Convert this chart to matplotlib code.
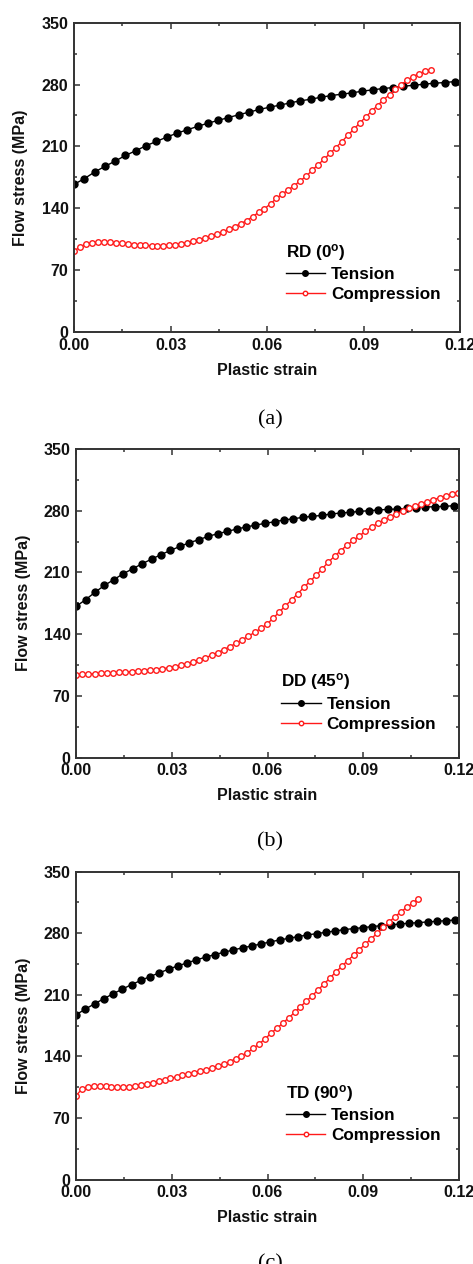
import matplotlib
matplotlib.use('Agg')
import matplotlib.pyplot as plt
from matplotlib.ticker import MultipleLocator, FormatStrFormatter

plt.rcParams['font.family'] = ['Liberation Sans', 'DejaVu Sans']
plt.rcParams['font.weight'] = 'bold'
plt.rcParams['mathtext.fontset'] = 'custom'
plt.rcParams['mathtext.rm'] = 'Liberation Sans'
plt.rcParams['mathtext.it'] = 'Liberation Sans'

# ---------------- data ----------------
# (a) RD (0 deg)
tension_strain_a = [0, 0.0032, 0.0064, 0.0096, 0.0128, 0.016, 0.0192, 0.0224, 0.0256, 0.0288,
                    0.032, 0.0352, 0.0384, 0.0416, 0.0448, 0.048, 0.0512, 0.0544, 0.0576, 0.0608,
                    0.064, 0.0672, 0.0704, 0.0736, 0.0768, 0.08, 0.0832, 0.0864, 0.0896, 0.0928,
                    0.096, 0.0992, 0.1024, 0.1056, 0.1088, 0.112, 0.1152, 0.1184]
tension_stress_a = [167, 173.5, 181, 187.4, 193.4, 199.8, 205.1, 210.8, 215.6, 220.5,
                    225, 228.8, 232.6, 236.3, 239.4, 242.7, 245.8, 248.8, 251.8, 254.4,
                    256.7, 259.3, 261.6, 263.4, 265.7, 267.6, 269.1, 270.6, 272.5, 274,
                    275.5, 276.6, 278.1, 279.2, 280.4, 281.5, 282.3, 283.4]
comp_strain_a = [0, 0.0019, 0.0037, 0.0056, 0.0074, 0.0093, 0.0111, 0.013, 0.0148, 0.0167,
                 0.0185, 0.0204, 0.0222, 0.0241, 0.0259, 0.0278, 0.0296, 0.0315, 0.0333, 0.0352,
                 0.037, 0.0389, 0.0407, 0.0426, 0.0444, 0.0463, 0.0481, 0.05, 0.0518, 0.0537,
                 0.0555, 0.0574, 0.0592, 0.0611, 0.0629, 0.0648, 0.0666, 0.0685, 0.0703, 0.0722,
                 0.074, 0.0759, 0.0777, 0.0796, 0.0814, 0.0833, 0.0851, 0.087, 0.0888, 0.0907,
                 0.0925, 0.0944, 0.0962, 0.0981, 0.0999, 0.1018, 0.1036, 0.1055, 0.1073, 0.1092,
                 0.111]
comp_stress_a = [91.5, 96.5, 99.5, 101.0, 101.6, 101.7, 101.4, 100.9, 100.2, 99.5,
                 98.9, 98.4, 98.0, 97.8, 97.7, 97.8, 98.2, 98.9, 99.8, 101.0,
                 102.5, 104.2, 106.2, 108.4, 110.8, 113.4, 116.2, 119.3, 122.6, 126.0,
                 130.5, 135.3, 139.5, 145.0, 151.2, 156.2, 160.9, 165.7, 171.0, 176.3,
                 182.9, 189.3, 195.5, 202.0, 208.6, 215.5, 222.5, 229.6, 236.3, 243.3,
                 249.8, 256.3, 262.8, 268.5, 274.6, 280.0, 284.9, 289.1, 292.5, 295.1,
                 296.6]

# (b) DD (45 deg)
tension_strain_b = [0, 0.003, 0.0059, 0.0089, 0.0118, 0.0148, 0.0178, 0.0207, 0.0237, 0.0266,
                    0.0296, 0.0326, 0.0355, 0.0385, 0.0414, 0.0444, 0.0474, 0.0503, 0.0533, 0.0562,
                    0.0592, 0.0622, 0.0651, 0.0681, 0.071, 0.074, 0.077, 0.0799, 0.0829, 0.0858,
                    0.0888, 0.0918, 0.0947, 0.0977, 0.1006, 0.1036, 0.1066, 0.1095, 0.1125, 0.1154,
                    0.1184]
tension_stress_b = [171.4, 179, 187.3, 195.2, 201.7, 208.5, 214.2, 219.8, 225.1, 230.1,
                    235, 239.5, 243.7, 247.1, 250.9, 253.9, 256.5, 259.2, 261.5, 263.7,
                    265.6, 267.5, 269.4, 270.9, 272.4, 273.6, 274.7, 276.2, 277.4, 278.1,
                    279.2, 280, 280.8, 281.5, 281.9, 282.6, 283.4, 284.2, 284.5, 284.9,
                    285.7]
comp_strain_b = [0, 0.0019, 0.0039, 0.0058, 0.0077, 0.0097, 0.0116, 0.0135, 0.0154, 0.0174,
                 0.0193, 0.0212, 0.0232, 0.0251, 0.027, 0.029, 0.0309, 0.0328, 0.0347, 0.0367,
                 0.0386, 0.0405, 0.0425, 0.0444, 0.0463, 0.0483, 0.0502, 0.0521, 0.054, 0.056,
                 0.0579, 0.0598, 0.0618, 0.0637, 0.0656, 0.0676, 0.0695, 0.0714, 0.0733, 0.0753,
                 0.0772, 0.0791, 0.0811, 0.083, 0.0849, 0.0869, 0.0888, 0.0907, 0.0926, 0.0946,
                 0.0965, 0.0984, 0.1004, 0.1023, 0.1042, 0.1062, 0.1081, 0.11, 0.1119, 0.1139,
                 0.1158, 0.1177, 0.1197]
comp_stress_b = [93.8, 94.3, 94.7, 95.1, 95.5, 95.8, 96.2, 96.6, 97.0, 97.4,
                 97.9, 98.5, 99.1, 99.8, 100.7, 101.8, 103.0, 104.5, 106.4, 108.3,
                 110.6, 113.2, 116.0, 119.0, 122.4, 125.9, 129.7, 133.6, 137.7, 142.0,
                 146.5, 151.2, 158.1, 165.1, 172.0, 178.9, 185.9, 193.0, 199.9, 206.9,
                 214.3, 221.8, 228.7, 234.8, 240.9, 246.2, 251.5, 256.6, 261.4, 265.8,
                 269.7, 273.2, 276.5, 279.7, 282.6, 285.3, 287.8, 290.2, 292.5, 294.6,
                 296.8, 298.6, 300.5]

# (c) TD (90 deg)
tension_strain_c = [0, 0.0029, 0.0058, 0.0087, 0.0116, 0.0145, 0.0174, 0.0203, 0.0232, 0.0261,
                    0.029, 0.0319, 0.0348, 0.0377, 0.0406, 0.0435, 0.0464, 0.0493, 0.0522, 0.0551,
                    0.058, 0.0609, 0.0638, 0.0667, 0.0696, 0.0725, 0.0754, 0.0783, 0.0812, 0.0841,
                    0.087, 0.0899, 0.0928, 0.0957, 0.0986, 0.1015, 0.1044, 0.1073, 0.1102, 0.1131,
                    0.116, 0.1189]
tension_stress_c = [187.3, 193.7, 199.8, 205.5, 211.2, 216.4, 221.7, 226.3, 230.8, 235,
                    239.1, 242.9, 246.3, 249.7, 252.8, 255.8, 258.4, 261.1, 263.4, 265.6,
                    267.9, 270.2, 272.4, 274.3, 276.2, 278.1, 279.6, 281.1, 282.6, 284.2,
                    285.3, 286.4, 287.6, 288.7, 289.5, 290.6, 291.4, 292.1, 292.9, 293.6,
                    294.4, 295.1]
comp_strain_c = [0, 0.0019, 0.0037, 0.0056, 0.0074, 0.0093, 0.0111, 0.013, 0.0148, 0.0167,
                 0.0185, 0.0204, 0.0222, 0.0241, 0.0259, 0.0278, 0.0296, 0.0315, 0.0333, 0.0352,
                 0.037, 0.0389, 0.0407, 0.0426, 0.0444, 0.0463, 0.0481, 0.05, 0.0518, 0.0537,
                 0.0555, 0.0574, 0.0592, 0.0611, 0.0629, 0.0648, 0.0666, 0.0685, 0.0703, 0.0722,
                 0.074, 0.0759, 0.0777, 0.0796, 0.0814, 0.0833, 0.0851, 0.087, 0.0888, 0.0907,
                 0.0925, 0.0944, 0.0962, 0.0981, 0.0999, 0.1018, 0.1036, 0.1055, 0.1073]
comp_stress_c = [95.0, 103.3, 105.0, 106.2, 106.3, 105.9, 105.2, 104.9, 104.8, 105.2,
                 106.1, 107.2, 108.5, 110.0, 111.6, 113.3, 115.0, 116.7, 118.3, 119.9,
                 121.5, 123.1, 124.8, 126.5, 128.6, 131.0, 134.0, 137.2, 140.5, 144.4,
                 149.0, 154.3, 159.8, 166.3, 171.9, 177.7, 183.8, 189.9, 196.4, 202.8,
                 209.1, 215.6, 222.4, 229.1, 236.0, 242.3, 249.0, 255.0, 261.5, 267.8,
                 273.9, 280.0, 286.6, 292.6, 298.8, 304.2, 309.5, 314.2, 319.5]

legend_titles = ['RD (0$^{\\rm o}$)', 'DD (45$^{\\rm o}$)', 'TD (90$^{\\rm o}$)']
captions = ['(a)', '(b)', '(c)']
series_labels = ['Tension', 'Compression']
xticks = [0.00, 0.03, 0.06, 0.09, 0.12]
yticks = [0, 70, 140, 210, 280, 350]

# ---------------- layout ----------------
W, H = 473, 1264
fig = plt.figure(figsize=(W / 100, H / 100), dpi=100)

# axes boxes in pixels: left, top, right, bottom
boxes = [(74, 22.7, 460, 332), (76, 449, 459, 757.5), (76, 871.7, 459, 1179.5)]
legend_anchor = [(0.548, 0.292), (0.536, 0.279), (0.548, 0.315)]
caption_y = [420, 842, 1264]

data = [
    (tension_strain_a, tension_stress_a, comp_strain_a, comp_stress_a),
    (tension_strain_b, tension_stress_b, comp_strain_b, comp_stress_b),
    (tension_strain_c, tension_stress_c, comp_strain_c, comp_stress_c),
]

for i, (ts, tsig, cs, csig) in enumerate(data):
    l, t, r, b = boxes[i]
    ax = fig.add_axes([l / W, 1 - b / H, (r - l) / W, (b - t) / H])
    ax.plot(ts, tsig, '-o', color='black', lw=1.0, ms=5.0, mec='black', mfc='black',
            label=series_labels[0])
    ax.plot(cs, csig, '-o', color='#ff1a1a', lw=1.0, ms=4.0, mew=1.0, mec='#ff1a1a',
            mfc='white', label=series_labels[1])
    ax.set_xlim(0, 0.12)
    ax.set_ylim(0, 350)
    ax.set_xticks(xticks)
    ax.set_yticks(yticks)
    ax.xaxis.set_minor_locator(MultipleLocator(0.015))
    ax.yaxis.set_minor_locator(MultipleLocator(35))
    ax.xaxis.set_major_formatter(FormatStrFormatter('%.2f'))
    ax.tick_params(which='both', direction='in', top=True, right=True,
                   width=1.1, color='#333333')
    ax.tick_params(which='major', length=4.5, labelsize=11.5, pad=4)
    ax.tick_params(which='minor', length=2.5)
    for lab in ax.get_xticklabels() + ax.get_yticklabels():
        lab.set_fontweight('bold')
        lab.set_color('#111111')
    for sp in ax.spines.values():
        sp.set_linewidth(1.4)
        sp.set_color('#333333')
    ax.set_xlabel('Plastic strain', fontsize=11.5, fontweight='bold', color='#111111')
    ax.set_ylabel('Flow stress (MPa)', fontsize=11.5, fontweight='bold', color='#111111')
    ax.xaxis.set_label_coords(0.5, -0.1)
    ax.yaxis.set_label_coords(-0.118, 0.5)
    leg = ax.legend(title=legend_titles[i], loc='upper left',
                    bbox_to_anchor=legend_anchor[i], frameon=False,
                    prop={'size': 12.3, 'weight': 'bold'},
                    title_fontproperties={'size': 12.3, 'weight': 'bold'},
                    alignment='left', handlelength=2.3, handletextpad=0.35,
                    labelspacing=0.28, borderpad=0, borderaxespad=0, numpoints=1,
                    markerscale=0.8)
    fig.text(270 / W, 1 - caption_y[i] / H, captions[i], ha='center', va='center',
             fontsize=16, family='Liberation Serif', fontweight='normal')

fig.savefig('out.png', dpi=100)
